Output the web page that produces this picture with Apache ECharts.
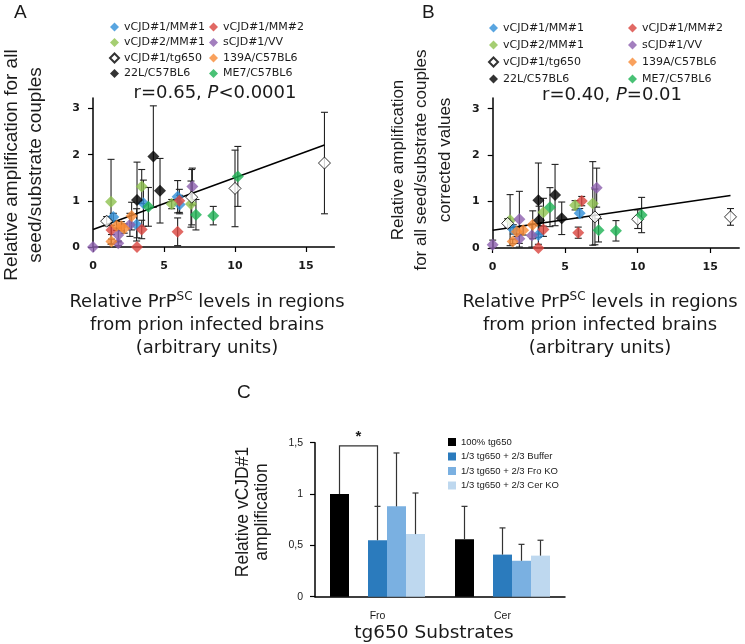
<!DOCTYPE html>
<html><head><meta charset="utf-8">
<script src="https://cdn.jsdelivr.net/npm/echarts@6/dist/echarts.min.js"></script>
<style>html,body{margin:0;padding:0;background:#fff}#c{width:745px;height:644px}</style>
</head><body><div id="c"></div>
<script>
// ---------- DATA ----------
const groupNames = ['vCJD#1/MM#1','vCJD#1/MM#2','vCJD#2/MM#1','sCJD#1/VV','vCJD#1/tg650','139A/C57BL6','22L/C57BL6','ME7/C57BL6'];
// Panel A: [PrPsc level, relative amplification, error]
const aMM1  = [[1.43,0.65,0.08],[3.07,0.48,0.35],[3.55,0.95,0.5],[5.96,1.09,0.35],[6.1,0.92,0.2]];
const aMM2  = [[1.3,0.37,0.1],[3.1,0.0,0],[3.43,0.38,0.2],[5.96,0.33,0.3],[6.08,1.0,0.25]];
const aV2   = [[1.27,0.98,0.92],[3.43,1.31,0.37],[5.54,0.93,0.1],[6.9,0.93,0.5]];
const aVV   = [[0,0.0,0],[1.78,0.26,0.15],[1.78,0.08,0.05],[2.6,0.48,0.25],[7.0,1.31,0.4]];
const aTg   = [[0.96,0.56,0.1],[6.95,1.08,0.6],[10.0,1.27,0.83],[16.3,1.82,1.1]];
const a139  = [[1.3,0.12,0.05],[1.66,0.46,0.1],[2.0,0.45,0.1],[2.2,0.4,0.1],[2.72,0.67,0.3]];
const a22L  = [[3.1,1.02,0.82],[4.25,1.96,1.1],[4.72,1.22,0.7]];
const aME7  = [[3.9,0.87,0.42],[7.25,0.7,0.33],[8.47,0.68,0.2],[10.2,1.53,0.65]];
const fitA  = [[0,0.38],[16.3,2.21]];
// Panel B: corrected values
const bMM1  = [[1.42,0.4,0.1],[3.15,0.28,0.2],[6.0,0.75,0.1]];
const bMM2  = [[3.15,0.0,0],[3.5,0.4,0.15],[5.9,0.33,0.12],[6.14,1.01,0.1]];
const bV2   = [[1.2,0.6,0.55],[3.5,0.77,0.3],[5.68,0.92,0.1],[6.9,0.96,0.9]];
const bVV   = [[0,0.07,0.1],[1.84,0.62,0.6],[1.84,0.2,0.1],[2.7,0.27,0.25],[7.17,1.3,0.42]];
const bTg   = [[1.03,0.53,0.1],[7.05,0.67,0.6],[10.0,0.62,0.2],[16.4,0.67,0.18]];
const b139  = [[1.38,0.14,0.05],[1.66,0.35,0.1],[2.1,0.38,0.1],[2.76,0.5,0.3]];
const b22L  = [[3.15,1.03,0.8],[3.2,0.6,0.3],[4.3,1.14,0.66],[4.76,0.64,0.35]];
const bME7  = [[3.95,0.88,0.42],[7.3,0.38,0.25],[8.5,0.37,0.22],[10.27,0.71,0.38]];
const fitB  = [[0,0.38],[16.4,1.13]];
const xTicksAB = [0,5,10,15];
const yTicksAB = [0,1,2,3];
// Panel C
const catsC = ['Fro','Cer'];
const cNames = ['100% tg650','1/3 tg650 + 2/3 Buffer','1/3 tg650 + 2/3 Fro KO','1/3 tg650 + 2/3 Cer KO'];
const c100 = [1.0, 0.56],  c100Err = [0, 0.32];
const cBuf = [0.55, 0.41], cBufErr = [0.33, 0.26];
const cFro = [0.88, 0.35], cFroErr = [0.52, 0.16];
const cCer = [0.61, 0.40], cCerErr = [0.40, 0.15];
const yTicksC = [0, 0.5, 1, 1.5];
const sigBracket = [[0, 1.0, 1.47, 0.88]]; // category, left end, top, right end

// ---------- STYLE ----------
const colors = ['#2f8fd8','#d9443d','#8fc24f','#8c5fae','#ffffff','#f78a35','#000000','#1bb253'];
const cColors = ['#000000','#2b7bbd','#7ab0e1','#bed8ef'];
const aGroups = [aMM1,aMM2,aV2,aVV,aTg,a139,a22L,aME7];
const bGroups = [bMM1,bMM2,bV2,bVV,bTg,b139,b22L,bME7];
const TXT = '#1a1a1a';
const BW = 19;
const NARROW = '"Liberation Sans", Arial, sans-serif';

function errRender(params, api){
  const x = api.value(0), y = api.value(1), e = api.value(2);
  if (!e) return null;
  const p1 = api.coord([x, y + e]);
  const p0 = api.coord([x, Math.max(0, y - e)]);
  const w = 3.5, st = {stroke:'#222', lineWidth:1.1};
  return {type:'group', children:[
    {type:'line', shape:{x1:p1[0],y1:p1[1],x2:p0[0],y2:p0[1]}, style:st},
    {type:'line', shape:{x1:p1[0]-w,y1:p1[1],x2:p1[0]+w,y2:p1[1]}, style:st},
    {type:'line', shape:{x1:p0[0]-w,y1:p0[1],x2:p0[0]+w,y2:p0[1]}, style:st}
  ]};
}
function barErrRender(params, api){
  const ci = api.value(0), v = api.value(1), e = api.value(2), slot = api.value(3);
  if (!e) return null;
  const c = api.coord([ci, v]);
  const t = api.coord([ci, v + e]);
  const x = c[0] + (slot - 2) * BW;
  const st = {stroke:'#333', lineWidth:1.2};
  return {type:'group', children:[
    {type:'line', shape:{x1:x,y1:c[1],x2:x,y2:t[1]}, style:st},
    {type:'line', shape:{x1:x-3,y1:t[1],x2:x+3,y2:t[1]}, style:st}
  ]};
}
function bracketRender(params, api){
  const ci = api.value(0);
  const l = api.coord([ci, api.value(1)]), t = api.coord([ci, api.value(2)]), r = api.coord([ci, api.value(3)]);
  const xl = l[0] - 2*BW, xr = l[0];
  return {type:'group', children:[
    {type:'polyline', shape:{points:[[xl,l[1]],[xl,t[1]],[xr,t[1]],[xr,r[1]]]}, style:{stroke:'#333', lineWidth:1.2, fill:null}},
    {type:'text', x:(xl+xr)/2, y:t[1]-1, style:{text:'*', font:'bold 15px "Liberation Sans"', fill:TXT, textAlign:'center', textVerticalAlign:'bottom'}}
  ]};
}

const tickFont = {fontFamily:'DejaVu Sans', fontWeight:'bold', fontSize:11, color:TXT};
function abAxes(gi){
  return {
    x: {type:'value', gridIndex:gi, min:0, max:17,
      axisLine:{lineStyle:{color:'#000', width:1.5}},
      axisTick:{customValues:xTicksAB, length:5, lineStyle:{color:'#000', width:1.2}},
      axisLabel:{customValues:xTicksAB, margin:14, ...tickFont},
      splitLine:{show:false}},
    y: {type:'value', gridIndex:gi, min:0, max:3.23,
      axisLine:{show:true, lineStyle:{color:'#000', width:1.5}},
      axisTick:{show:true, customValues:yTicksAB, length:5, lineStyle:{color:'#000', width:1.2}},
      axisLabel:{customValues:yTicksAB, margin:13, ...tickFont},
      splitLine:{show:false}}
  };
}
const axA = abAxes(0), axB = abAxes(1);

const series = [];
[[aGroups,0],[bGroups,1]].forEach(([groups, gi]) => {
  series.push({type:'custom', xAxisIndex:gi, yAxisIndex:gi, renderItem:errRender, z:1, silent:true,
    encode:{x:0, y:1}, data:[].concat(...groups), clip:false});
  series.push({type:'line', xAxisIndex:gi, yAxisIndex:gi, data: gi===0?fitA:fitB, symbol:'none',
    lineStyle:{color:'#000', width:1.5}, z:2, silent:true});
  groups.forEach((g, i) => {
    series.push({type:'scatter', name:groupNames[i], xAxisIndex:gi, yAxisIndex:gi, symbol:'diamond', symbolSize:12,
      data:g.map(d => [d[0], d[1]]), z:3,
      itemStyle: i===4 ? {color:'#fff', borderColor:'#000', borderWidth:1} : {color:colors[i]}});
  });
});
const cVals = [c100, null, cBuf, cFro, cCer];
const cErrs = [c100Err, null, cBufErr, cFroErr, cCerErr];
cVals.forEach((v, k) => {
  const ci = k === 0 ? 0 : k - 1;
  series.push({type:'bar', name: v ? cNames[ci] : 'spacer', xAxisIndex:2, yAxisIndex:2, barWidth:BW, barGap:'0%',
    data: v ? v : catsC.map(() => '-'), itemStyle:{color: v ? cColors[ci] : 'transparent'}, z:2});
});
const barErrData = [];
cErrs.forEach((e, k) => { if (e) e.forEach((ev, ci) => barErrData.push([ci, cVals[k][ci], ev, k])); });
series.push({type:'custom', xAxisIndex:2, yAxisIndex:2, renderItem:barErrRender, encode:{x:0, y:1}, data:barErrData, z:3, clip:false});
series.push({type:'custom', xAxisIndex:2, yAxisIndex:2, renderItem:bracketRender, encode:{x:0, y:2}, data:sigBracket, z:4, clip:false});

function legendCol(left, top, names, gap){
  return {orient:'vertical', left, top, data:names, icon:'diamond', itemWidth:9, itemHeight:9, itemGap:gap,
    selectedMode:false, textStyle:{fontFamily:'DejaVu Sans', fontSize:11, color:TXT}};
}
const col1 = [groupNames[0], groupNames[2], groupNames[4], groupNames[6]];
const col2 = [groupNames[1], groupNames[3], groupNames[5], groupNames[7]];

const bigH = {fontFamily:'DejaVu Sans', fontSize:18, fill:TXT};
function xTitle(cx){
  return {type:'text', x:cx, y:291, style:{
    text:'{a|Relative PrP}{s|SC}{a| levels in regions}\n{a|from prion infected brains}\n{a|(arbitrary units)}',
    rich:{a:{...bigH, lineHeight:23}, s:{fontFamily:'DejaVu Sans', fontSize:12, fill:TXT, verticalAlign:'top', lineHeight:23, padding:[0,0,8,0]}},
    textAlign:'center', textVerticalAlign:'top'}};
}

const chart = echarts.init(document.getElementById('c'), null, {renderer:'canvas'});
chart.setOption({
  animation:false,
  backgroundColor:'#fff',
  grid:[
    {left:93, top:98, width:241.4, height:149},
    {left:492.7, top:98, width:246.5, height:150},
    {left:315, top:442.7, width:250, height:154}
  ],
  xAxis:[axA.x, axB.x,
    {type:'category', gridIndex:2, data:catsC,
      axisLine:{lineStyle:{color:'#000', width:1.5}},
      axisTick:{length:5, lineStyle:{color:'#000', width:1.2}},
      axisLabel:{margin:14, fontFamily:NARROW, fontSize:10.5, color:TXT}}],
  yAxis:[axA.y, axB.y,
    {type:'value', gridIndex:2, min:0, max:1.5,
      axisLine:{show:true, lineStyle:{color:'#000', width:1.5}},
      axisTick:{show:true, customValues:yTicksC, length:5, lineStyle:{color:'#000', width:1.2}},
      axisLabel:{customValues:yTicksC, margin:12, fontFamily:NARROW, fontSize:10.5, color:TXT,
        formatter: v => String(v).replace('.', ',')},
      splitLine:{show:false}}],
  legend:[
    legendCol(104, 16.5, col1, 4.5), legendCol(204, 16.5, col2, 4.5),
    legendCol(483, 17.5, col1, 6), legendCol(623, 17.5, col2, 6),
    {orient:'vertical', left:443, top:432, data:cNames, icon:'rect', itemWidth:8, itemHeight:8, itemGap:4.5,
      selectedMode:false, textStyle:{fontFamily:NARROW, fontSize:9.5, color:TXT}}
  ],
  series,
  graphic:[
    {type:'text', x:14, y:3, style:{text:'A', font:'19px "Liberation Sans"', fill:TXT}},
    {type:'text', x:422, y:3, style:{text:'B', font:'19px "Liberation Sans"', fill:TXT}},
    {type:'text', x:237, y:383, style:{text:'C', font:'19px "Liberation Sans"', fill:TXT}},
    {type:'text', x:215, y:93, style:{text:'{a|r=0.65, }{i|P}{a|<0.0001}',
      rich:{a:{...bigH}, i:{...bigH, fontStyle:'italic'}}, textAlign:'center', textVerticalAlign:'middle'}},
    {type:'text', x:612, y:95, style:{text:'{a|r=0.40, }{i|P}{a|=0.01}',
      rich:{a:{...bigH}, i:{...bigH, fontStyle:'italic'}}, textAlign:'center', textVerticalAlign:'middle'}},
    {type:'text', x:24, y:165, rotation:Math.PI/2, style:{text:'Relative amplification for all\nseed/substrate couples',
      font:'19px "Liberation Sans"', lineHeight:24, fill:TXT, textAlign:'center', textVerticalAlign:'middle'}},
    {type:'text', x:421.5, y:160, rotation:Math.PI/2, style:{text:'Relative amplification\nfor all seed/substrate couples\ncorrected values',
      font:'17px "Liberation Sans"', lineHeight:23.5, fill:TXT, textAlign:'center', textVerticalAlign:'middle'}},
    {type:'text', x:252.5, y:512, rotation:Math.PI/2, style:{text:'Relative vCJD#1\namplification',
      font:'17.5px "Liberation Sans"', lineHeight:19.5, fill:TXT, textAlign:'center', textVerticalAlign:'middle'}},
    xTitle(207), xTitle(600),
    {type:'text', x:434, y:633, style:{text:'tg650 Substrates', ...bigH, fontSize:18.5, textAlign:'center', textVerticalAlign:'middle'}}
  ]
});
</script></body></html>
